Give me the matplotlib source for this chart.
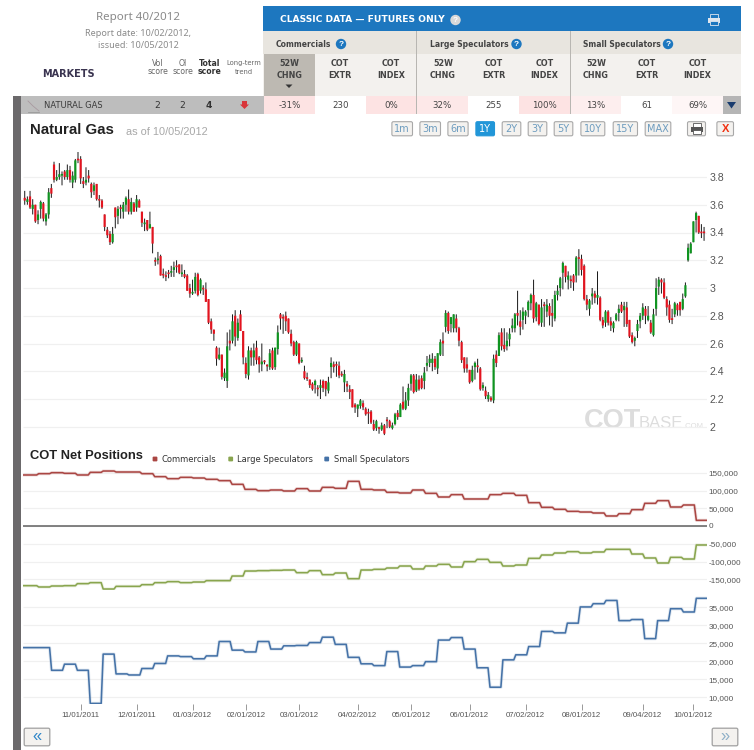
import numpy as np
import matplotlib
matplotlib.use('Agg')
import matplotlib.pyplot as plt
from matplotlib.patches import Rectangle, FancyBboxPatch, Polygon, Circle

W, H = 754, 750

# daily prices, oldest first
opens = [3.65,3.62,3.66,3.57,3.60,3.49,3.57,3.61,3.48,3.53,
         3.72,3.89,3.78,3.80,3.81,3.84,3.80,3.85,3.76,3.78,
         3.93,3.93,3.77,3.76,3.81,3.75,3.70,3.75,3.64,3.63,
         3.53,3.42,3.39,3.33,3.58,3.52,3.58,3.55,3.60,3.64,
         3.55,3.61,3.58,3.63,3.55,3.46,3.49,3.43,3.44,3.20,
         3.20,3.23,3.10,3.09,3.11,3.11,3.13,3.16,3.17,3.10,
         3.10,3.09,3.00,2.96,2.98,3.10,2.98,3.00,2.99,2.92,
         2.76,2.70,2.57,2.49,2.52,2.35,2.33,2.62,2.62,2.80,
         2.64,2.81,2.69,2.46,2.37,2.55,2.50,2.57,2.50,2.45,
         2.475,2.445,2.43,2.55,2.43,2.56,2.81,2.79,2.80,2.78,
         2.67,2.61,2.52,2.60,2.47,2.40,2.355,2.34,2.31,2.30,
         2.28,2.28,2.33,2.33,2.26,2.43,2.45,2.45,2.44,2.38,
         2.32,2.31,2.27,2.27,2.16,2.13,2.15,2.17,2.13,2.10,
         2.11,2.02,1.99,1.995,1.98,2.01,2.05,2.04,1.99,2.02,
         2.10,2.07,2.18,2.13,2.19,2.31,2.37,2.26,2.34,2.35,
         2.33,2.44,2.46,2.46,2.49,2.42,2.52,2.62,2.72,2.82,
         2.74,2.71,2.78,2.71,2.61,2.50,2.45,2.41,2.33,2.43,
         2.44,2.42,2.28,2.26,2.20,2.21,2.19,2.52,2.51,2.68,
         2.59,2.58,2.63,2.71,2.71,2.82,2.76,2.77,2.80,2.84,
         2.89,2.95,2.79,2.88,2.75,2.88,2.83,2.87,2.82,2.78,
         2.95,3.00,3.11,3.16,3.06,3.06,3.09,3.09,3.22,3.21,
         3.16,2.92,2.85,2.94,2.96,2.93,2.93,2.77,2.75,2.83,
         2.76,2.71,2.77,2.82,2.88,2.84,2.86,2.77,2.66,2.62,
         2.69,2.76,2.80,2.85,2.77,2.75,2.66,2.85,3.01,3.06,
         3.04,2.92,2.88,2.78,2.81,2.88,2.90,2.85,2.94,3.20,
         3.25,3.33,3.49,3.52,3.405,3.405]
closes = [3.63,3.64,3.58,3.60,3.48,3.53,3.62,3.50,3.53,3.69,
          3.68,3.78,3.80,3.82,3.82,3.80,3.85,3.78,3.81,3.92,
          3.92,3.79,3.75,3.78,3.79,3.69,3.74,3.64,3.63,3.58,
          3.44,3.38,3.33,3.39,3.51,3.57,3.57,3.60,3.65,3.55,
          3.62,3.55,3.64,3.58,3.47,3.47,3.42,3.46,3.32,3.19,
          3.21,3.09,3.09,3.08,3.10,3.12,3.15,3.15,3.11,3.11,
          3.08,2.98,2.96,2.97,3.08,2.95,3.06,2.99,2.90,2.75,
          2.70,2.67,2.49,2.52,2.36,2.39,2.58,2.60,2.76,2.65,
          2.75,2.69,2.50,2.38,2.55,2.50,2.55,2.48,2.45,2.47,
          2.465,2.435,2.53,2.42,2.57,2.68,2.78,2.78,2.76,2.68,
          2.60,2.52,2.61,2.46,2.48,2.35,2.345,2.30,2.27,2.33,
          2.27,2.30,2.28,2.27,2.32,2.46,2.43,2.44,2.37,2.37,
          2.38,2.29,2.25,2.14,2.14,2.16,2.19,2.14,2.09,2.095,
          2.03,1.98,2.04,1.985,2.01,1.95,2.04,2.00,2.01,2.09,
          2.07,2.16,2.13,2.19,2.28,2.37,2.25,2.34,2.27,2.28,
          2.39,2.46,2.49,2.49,2.43,2.53,2.61,2.60,2.82,2.69,
          2.79,2.81,2.71,2.62,2.48,2.42,2.42,2.32,2.41,2.46,
          2.43,2.27,2.30,2.22,2.23,2.19,2.49,2.46,2.66,2.58,
          2.56,2.62,2.67,2.73,2.81,2.80,2.72,2.83,2.83,2.90,
          2.95,2.78,2.89,2.74,2.86,2.87,2.88,2.80,2.80,2.95,
          2.98,3.07,3.18,3.08,3.09,3.05,3.04,3.22,3.21,3.13,
          2.92,2.88,2.91,2.96,2.93,2.95,2.77,2.73,2.83,2.75,
          2.73,2.75,2.81,2.85,2.83,2.87,2.74,2.65,2.61,2.64,
          2.74,2.80,2.86,2.80,2.80,2.68,2.81,3.00,3.06,3.04,
          2.93,2.86,2.77,2.77,2.89,2.84,2.84,2.92,3.02,3.29,
          3.32,3.48,3.54,3.40,3.395,3.395]
highs = [3.70,3.66,3.70,3.64,3.60,3.56,3.63,3.62,3.54,3.72,
         3.75,3.91,3.85,3.90,3.84,3.85,3.89,3.88,3.84,3.93,
         3.98,3.95,3.80,3.87,3.85,3.76,3.76,3.75,3.67,3.64,
         3.53,3.44,3.41,3.44,3.58,3.59,3.60,3.62,3.66,3.71,
         3.65,3.62,3.67,3.64,3.55,3.50,3.49,3.55,3.44,3.22,
         3.26,3.24,3.14,3.12,3.13,3.16,3.19,3.20,3.17,3.17,
         3.13,3.10,3.03,3.06,3.11,3.11,3.07,3.02,3.04,2.92,
         2.78,2.70,2.58,2.57,2.52,2.42,2.68,2.70,2.81,2.84,
         2.78,2.84,2.69,2.50,2.58,2.57,2.60,2.62,2.51,2.60,
         2.48,2.45,2.56,2.57,2.57,2.73,2.82,2.81,2.83,2.78,
         2.70,2.62,2.62,2.60,2.50,2.44,2.39,2.34,2.32,2.34,
         2.30,2.34,2.34,2.33,2.36,2.50,2.47,2.47,2.47,2.40,
         2.41,2.33,2.30,2.27,2.17,2.16,2.20,2.19,2.14,2.13,
         2.12,2.05,2.05,2.00,2.03,2.02,2.07,2.05,2.03,2.10,
         2.12,2.17,2.29,2.25,2.31,2.38,2.38,2.38,2.37,2.37,
         2.43,2.51,2.52,2.53,2.51,2.53,2.63,2.68,2.84,2.83,
         2.79,2.81,2.81,2.72,2.62,2.50,2.50,2.41,2.44,2.47,
         2.49,2.43,2.32,2.29,2.25,2.22,2.52,2.55,2.68,2.71,
         2.71,2.68,2.71,2.78,2.82,2.98,2.84,2.86,2.84,2.91,
         2.96,3.06,2.90,2.88,2.92,2.90,2.92,2.89,2.92,2.98,
         3.02,3.08,3.19,3.16,3.12,3.09,3.10,3.23,3.28,3.24,
         3.17,2.95,2.92,3.00,2.98,3.12,2.94,2.79,2.84,2.84,
         2.79,2.76,2.82,2.88,2.90,2.90,2.90,2.77,2.68,2.65,
         2.77,2.82,2.89,2.87,2.87,2.77,2.85,3.07,3.08,3.07,
         3.07,2.94,2.91,2.85,2.90,2.89,2.90,2.96,3.04,3.32,
         3.33,3.48,3.55,3.52,3.46,3.44]
lows = [3.60,3.60,3.57,3.53,3.47,3.46,3.50,3.48,3.45,3.50,
        3.65,3.76,3.77,3.78,3.74,3.78,3.78,3.76,3.72,3.76,
        3.90,3.75,3.72,3.74,3.76,3.65,3.67,3.63,3.58,3.57,
        3.41,3.36,3.31,3.32,3.43,3.46,3.50,3.50,3.55,3.53,
        3.53,3.55,3.55,3.58,3.44,3.41,3.41,3.43,3.25,3.16,
        3.17,3.09,3.07,3.05,3.07,3.08,3.08,3.11,3.10,3.08,
        3.07,2.98,2.93,2.95,2.96,2.94,2.96,2.95,2.90,2.74,
        2.67,2.62,2.44,2.48,2.34,2.33,2.28,2.55,2.60,2.58,
        2.62,2.69,2.45,2.35,2.34,2.44,2.44,2.45,2.39,2.40,
        2.45,2.40,2.41,2.41,2.41,2.52,2.70,2.67,2.69,2.67,
        2.58,2.51,2.51,2.45,2.46,2.34,2.33,2.28,2.26,2.24,
        2.22,2.20,2.25,2.22,2.24,2.35,2.39,2.36,2.35,2.36,
        2.25,2.25,2.20,2.14,2.10,2.07,2.13,2.12,2.08,2.02,
        2.02,1.97,1.97,1.95,1.97,1.94,1.99,1.99,1.98,2.01,
        2.05,2.07,2.12,2.12,2.15,2.26,2.24,2.25,2.26,2.27,
        2.27,2.40,2.43,2.40,2.41,2.38,2.51,2.51,2.68,2.67,
        2.68,2.68,2.68,2.58,2.46,2.39,2.39,2.31,2.32,2.34,
        2.39,2.26,2.26,2.20,2.18,2.18,2.17,2.43,2.51,2.55,
        2.54,2.55,2.58,2.68,2.68,2.73,2.66,2.70,2.74,2.79,
        2.84,2.75,2.76,2.73,2.72,2.72,2.79,2.73,2.72,2.76,
        2.91,2.94,2.99,3.04,2.99,3.00,2.98,3.04,3.09,3.09,
        2.91,2.84,2.80,2.88,2.89,2.88,2.76,2.71,2.72,2.73,
        2.69,2.68,2.76,2.76,2.82,2.72,2.72,2.64,2.60,2.58,
        2.64,2.71,2.77,2.74,2.76,2.67,2.65,2.80,2.95,2.96,
        2.92,2.80,2.75,2.74,2.79,2.80,2.80,2.84,2.93,3.19,
        3.25,3.33,3.40,3.39,3.36,3.34]

# weekly net positions
commercials = [143700,147400,150200,148400,143700,151200,154900,152100,152100,147400,
               139000,133300,137100,135200,131500,127700,117400,103300,99500,101400,
               98600,105200,98600,108900,106100,125800,103300,101400,94800,93000,
               101400,92000,81700,88300,76100,76100,88300,92000,86400,65700,
               52600,47000,41300,39400,36600,28200,34700,46000,63900,71400,
               53500,59200,16000]
large_specs = [-168100,-171800,-169000,-168100,-162400,-159600,-177500,-170000,-170000,-165300,
               -159600,-156800,-159600,-157800,-154000,-154000,-140900,-126800,-125800,-124900,
               -124000,-131500,-125800,-137100,-132400,-148400,-124000,-122000,-118300,-112700,
               -121100,-112700,-108000,-115500,-100500,-93900,-102400,-112700,-109900,-91100,
               -81700,-76100,-72300,-76100,-73200,-65700,-65700,-78900,-90100,-104200,
               -88300,-93000,-53500]
small_specs = [23800,23800,17500,19200,17500,8300,22000,16500,16200,18000,
               19400,21500,21300,20700,21500,25500,23100,22600,25500,23400,
               24300,24400,25200,26700,24700,21100,19300,18800,22700,18400,
               18800,19900,25900,26600,23400,18200,12800,20400,21800,24100,
               28300,27900,30600,35100,36000,36900,31300,31600,26300,31300,
               34600,33700,37500]

price_ticks = [2.0, 2.2, 2.4, 2.6, 2.8, 3.0, 3.2, 3.4, 3.6, 3.8]
price_labels = ['2', '2.2', '2.4', '2.6', '2.8', '3', '3.2', '3.4', '3.6', '3.8']
net_ticks = [150000, 100000, 50000, 0, -50000, -100000, -150000]
small_ticks = [35000, 30000, 25000, 20000, 15000, 10000]
date_bars = [21, 42, 63, 83, 103, 125, 145, 167, 188, 209, 232, 251]
date_labels = ['11/01/2011', '12/01/2011', '01/03/2012', '02/01/2012', '03/01/2012', '04/02/2012',
               '05/01/2012', '06/01/2012', '07/02/2012', '08/01/2012', '09/04/2012', '10/01/2012']
ranges = ['1m', '3m', '6m', '1Y', '2Y', '3Y', '5Y', '10Y', '15Y', 'MAX']
range_edges = [(391.7, 412.7), (419.7, 440.7), (447.7, 468.3), (475.7, 494.7), (502, 521),
               (528, 547), (554, 573), (580.7, 605), (613, 637.7), (645, 671)]

plt.rcParams['font.family'] = ['Liberation Sans', 'DejaVu Sans']
fig = plt.figure(figsize=(W / 100, H / 100), dpi=100, facecolor='white')


def px_axes(left, top, right, bottom):
    ax = fig.add_axes([left / W, 1 - bottom / H, (right - left) / W, (bottom - top) / H])
    ax.patch.set_alpha(0)
    for s in ax.spines.values():
        s.set_visible(False)
    return ax


# page furniture is laid out in pixel coordinates
page = px_axes(0, 0, W, H)
page.set_xlim(0, W)
page.set_ylim(H, 0)
page.axis('off')


def box(x0, y0, x1, y1, color, **kw):
    page.add_patch(Rectangle((x0, y0), x1 - x0, y1 - y0, fc=color, ec='none', **kw))


def help_icon(x, y, color):
    page.add_patch(Circle((x, y), 5.2, fc=color, ec='none'))
    page.text(x, y + 0.3, '?', color='white', fontsize=6, fontweight='bold', ha='center', va='center')


def printer(x, y, color, paper='white'):
    box(x - 4, y - 6, x + 4, y - 2, paper)
    page.add_patch(Rectangle((x - 4, y - 6), 8, 4, fc=paper, ec=color, lw=0.6))
    box(x - 6, y - 2, x + 6, y + 3, color)
    page.add_patch(Rectangle((x - 4, y + 1), 8, 4, fc=paper, ec=color, lw=0.6))


HEAD = 'DejaVu Sans'
page.text(138, 17.5, 'Report 40/2012', color='#8a8a8a', fontsize=8.3, family='Noto Sans', ha='center', va='center')
page.text(138, 33.5, 'Report date: 10/02/2012,', color='#8a8a8a', fontsize=6.5, family='Noto Sans', ha='center', va='center')
page.text(138, 45.5, 'issued: 10/05/2012', color='#8a8a8a', fontsize=6.5, family='Noto Sans', ha='center', va='center')
page.text(68, 74, 'MARKETS', color='#3a3450', fontsize=7, family=HEAD, fontweight='bold', ha='center', va='center')
for x, a, b, bold in [(158, 'Vol', 'score', False), (183, 'OI', 'score', False), (210, 'Total', 'score', True)]:
    page.text(x, 63, a, color='#333333' if bold else '#666666', fontsize=5.6, family=HEAD,
              fontweight='bold' if bold else 'normal', ha='center', va='center')
    page.text(x, 72, b, color='#333333' if bold else '#666666', fontsize=5.6, family=HEAD,
              fontweight='bold' if bold else 'normal', ha='center', va='center')
page.text(244, 63, 'Long-term', color='#666666', fontsize=4.9, family=HEAD, ha='center', va='center')
page.text(244, 72, 'trend', color='#666666', fontsize=4.9, family=HEAD, ha='center', va='center')

box(263, 6, 741, 31, '#1d77bf')
box(263, 31, 741, 54, '#e8e5df')
box(263, 54, 741, 96, '#f3f1ee')
box(264, 54, 315, 96, '#bdb9b2')
page.text(280, 20, 'CLASSIC DATA \u2014 FUTURES ONLY', color='white', fontsize=6.6, family=HEAD, fontweight='bold', va='center')
help_icon(455.5, 20, '#d8d8d8')
printer(714, 20, '#dfe6ee', '#1d77bf')
for x, label, ix in [(276, 'Commercials', 341), (430, 'Large Speculators', 516.5), (583, 'Small Speculators', 668)]:
    page.text(x, 44.5, label, color='#444444', fontsize=5.5, family=HEAD, fontweight='bold', va='center')
    help_icon(ix, 44, '#1d77bf')

col_x = [289.5, 340, 391, 443, 493.5, 544.5, 596, 646.5, 697.5]
col_top = ['52W', 'COT', 'COT'] * 3
col_bot = ['CHNG', 'EXTR', 'INDEX'] * 3
for x, a, b in zip(col_x, col_top, col_bot):
    page.text(x, 64, a, color='#444444', fontsize=5.8, family=HEAD, fontweight='bold', ha='center', va='center')
    page.text(x, 76, b, color='#444444', fontsize=5.8, family=HEAD, fontweight='bold', ha='center', va='center')
page.add_patch(Polygon([(285.5, 84.5), (292.5, 84.5), (289, 88)], fc='#333333', ec='none'))

box(13, 96, 264, 114, '#bdbdbd')
box(723, 96, 741, 114, '#b5b5b5')
page.add_patch(Polygon([(727, 102), (736, 102), (731.5, 108.5)], fc='#1a3c6e', ec='none'))
cell_edges = [264, 315, 366, 416.5, 468, 519, 570, 621, 672, 723]
cell_colors = ['#fde3e3', 'white', '#fde3e3', '#fde8e8', 'white', '#fde3e3', '#fdeeee', 'white', '#fef6f6']
cell_text = ['-31%', '230', '0%', '32%', '255', '100%', '13%', '61', '69%']
for i in range(9):
    box(cell_edges[i], 96, cell_edges[i + 1], 114, cell_colors[i])
    page.text((cell_edges[i] + cell_edges[i + 1]) / 2, 105.5, cell_text[i], color='#444444', fontsize=6.2,
              family=HEAD, ha='center', va='center')
box(416, 31, 417.2, 114, '#b8b6b2')
box(569.5, 31, 570.7, 114, '#b8b6b2')
page.text(44, 105.5, 'NATURAL GAS', color='#3c3c3c', fontsize=6, family=HEAD, va='center')
for x, v, bold in [(157, '2', False), (182.5, '2', False), (208.5, '4', True)]:
    page.text(x, 105.5, v, color='#333333', fontsize=6.6, family=HEAD, fontweight='bold' if bold else 'normal', ha='center', va='center')
page.add_patch(Polygon([(242, 101), (247, 101), (247, 104.5), (249, 104.5), (244.5, 109), (240, 104.5), (242, 104.5)],
                       fc='#d8353a', ec='none'))
page.plot([28, 33, 39], [101, 106, 111], color='#a89aa0', lw=0.6)
page.plot([28, 39], [112, 112], color='#9a9a9a', lw=0.6)
box(13, 96, 21, H, '#6b696b')

page.text(30, 130.5, 'Natural Gas', color='#222222', fontsize=10.8, fontweight='bold', va='center')
page.text(126, 132, 'as of 10/05/2012', color='#a8a8a8', fontsize=7.9, va='center')
for label, (x0, x1) in zip(ranges, range_edges):
    on = label == '1Y'
    page.add_patch(FancyBboxPatch((x0 + 1, 122.5), x1 - x0 - 2, 12.5, boxstyle='round,pad=0.8,rounding_size=1.5',
                                  fc='#2196d8' if on else '#f4f2ef', ec='#2196d8' if on else '#a8a8a8', lw=0.8))
    page.text((x0 + x1) / 2, 129.3, label, color='white' if on else '#6d9cbf', fontsize=7, family=HEAD, ha='center', va='center')
page.add_patch(FancyBboxPatch((688.3, 122.5), 16.4, 12.5, boxstyle='round,pad=0.8,rounding_size=1.5', fc='#f4f2ef', ec='#a8a8a8', lw=0.8))
printer(696.5, 128.5, '#555555')
page.add_patch(FancyBboxPatch((717.7, 122.5), 15, 12.5, boxstyle='round,pad=0.8,rounding_size=1.5', fc='#f4f2ef', ec='#a8a8a8', lw=0.8))
page.text(725.2, 129.3, 'X', color='#f03010', fontsize=8, fontweight='bold', ha='center', va='center')

page.text(584, 428.5, 'COT', color='#dddddd', fontsize=19.6, fontweight='bold', va='baseline')
page.text(639, 428.5, 'BASE', color='#dddddd', fontsize=12, va='baseline')
page.text(683, 428.5, '.COM', color='#dddddd', fontsize=5.6, va='baseline')

page.text(30, 456, 'COT Net Positions', color='#222222', fontsize=9.3, fontweight='bold', va='center')
for sx, tx, label, color in [(155, 161, 'Commercials', '#AA4643'), (230.7, 236.7, 'Large Speculators', '#89A54E'),
                             (326.7, 333.7, 'Small Speculators', '#4572A7')]:
    page.add_patch(FancyBboxPatch((sx - 1.8, 457.2), 3.6, 3.6, boxstyle='round,pad=0.6,rounding_size=1', fc=color, ec='none'))
    page.text(tx, 459.5, label, color='#333333', fontsize=6, family=HEAD, va='center')

for x0, x1, glyph, col in [(24, 50, '\u00ab', '#2f86c8'), (712, 738, '\u00bb', '#8fb0c8')]:
    page.add_patch(FancyBboxPatch((x0 + 1, 729), x1 - x0 - 2, 16, boxstyle='round,pad=0.8,rounding_size=1.5', fc='#f4f2ef', ec='#a0a0a0', lw=0.9))
    page.text((x0 + x1) / 2, 736, glyph, color=col, fontsize=12, ha='center', va='center')

# candles, x is the trading day number
x_left, x_right = -0.83, 256.1
bars = np.arange(len(opens))
o = np.array(opens)
c = np.array(closes)
body_low = np.minimum(o, c)
body_size = np.maximum(np.abs(c - o), 0.012)
candle_colors = np.where(c >= o, '#0f9420', '#e3141f')

ax = px_axes(22.5, 145, 707, 437)
ax.set_xlim(x_left, x_right)
ax.set_ylim(3.8 - (437 - 177) / 138.75, 3.8 - (145 - 177) / 138.75)
ax.hlines(price_ticks, x_left, x_right, color='#f0f0f0', lw=0.9, zorder=1)
wicks = ax.vlines(bars, lows, highs, color='#1c1c1c', lw=0.72, zorder=2)
wicks.set_snap(False)
bodies = ax.bar(bars, body_size, width=0.82, bottom=body_low, color=list(candle_colors), linewidth=0, zorder=3)
for b in bodies:
    b.set_snap(False)
ax.yaxis.tick_right()
ax.set_xticks([])
ax.set_yticks(price_ticks)
ax.set_yticklabels(price_labels, color='#555555', fontsize=7.6)
ax.tick_params(axis='y', length=0, pad=1.6)

# weekly positions drawn as plateaus with a short slope between weeks
week_len = 4.84
week_end = 4.5 + week_len * np.arange(len(commercials))
week_start = week_end - week_len + 0.75
week_start[0] = x_left
week_end[-1] = x_right
week_x = np.column_stack([week_start, week_end]).ravel()


def draw_weekly(axis, values, color):
    y = np.repeat(values, 2)
    axis.plot(week_x, y, color=color, lw=2.4, alpha=0.15, solid_joinstyle='round', zorder=3)
    axis.plot(week_x, y, color=color, lw=1.15, solid_joinstyle='round', zorder=4)


net = px_axes(22.5, 465, 707, 590)
net.set_xlim(x_left, x_right)
net.set_ylim((526 - 590) / 17.75 * 50000, (526 - 465) / 17.75 * 50000)
net.hlines(net_ticks, x_left, x_right, color='#f0f0f0', lw=0.9, zorder=1)
net.axhline(0, color='#666666', lw=1.15, zorder=2)
draw_weekly(net, commercials, '#AA4643')
draw_weekly(net, large_specs, '#89A54E')
net.yaxis.tick_right()
net.set_xticks([])
net.set_yticks(net_ticks)
net.set_yticklabels([f'{v:,}' for v in net_ticks], color='#555555', fontsize=5.9)
net.tick_params(axis='y', length=0, pad=1.0)

small = px_axes(22.5, 592, 707, 704)
small.set_xlim(x_left, x_right)
small.set_ylim(10000 + (697.3 - 704) / 18 * 5000, 10000 + (697.3 - 592) / 18 * 5000)
small.hlines(small_ticks, x_left, x_right, color='#f0f0f0', lw=0.9, zorder=1)
draw_weekly(small, small_specs, '#4572A7')
small.yaxis.tick_right()
small.set_yticks(small_ticks)
small.set_yticklabels([f'{v:,}' for v in small_ticks], color='#555555', fontsize=5.9)
small.tick_params(axis='y', length=0, pad=1.0)
small.set_xticks(date_bars)
small.set_xticklabels(date_labels, color='#555555', fontsize=5.7)
small.tick_params(axis='x', length=4.3, width=0.7, color='#999999', pad=1.6)

fig.savefig('out.png', dpi=100)
